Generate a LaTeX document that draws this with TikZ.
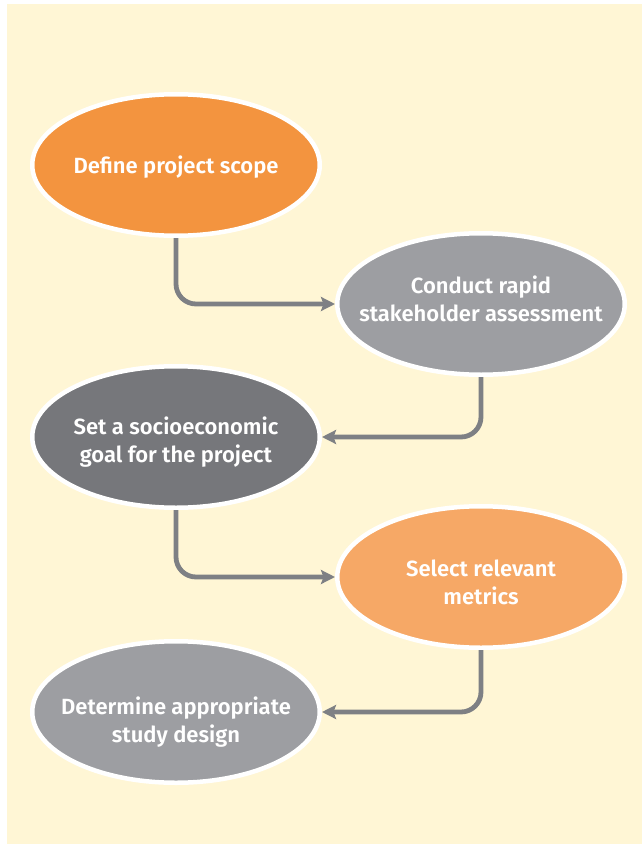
\documentclass[tikz,border=0pt]{standalone}
\usepackage{fontspec}
\setmainfont{Fira Sans}[UprightFont=* SemiBold]
\usetikzlibrary{shapes.geometric,arrows.meta}
\definecolor{bgyellow}{HTML}{FFF6D5}
\definecolor{orangeA}{HTML}{F3943F}
\definecolor{orangeB}{HTML}{F6A866}
\definecolor{greyA}{HTML}{9D9EA2}
\definecolor{greyB}{HTML}{76777B}
\definecolor{connc}{HTML}{7E8084}
\tikzset{
  stepnode/.style={ellipse, draw=white, line width=4.5pt, minimum width=287.5pt, minimum height=141.5pt,
     inner sep=0pt},
  steptext/.style={text=white, align=center, inner sep=0pt, font=\fontsize{22}{28}\selectfont},
  conn/.style={draw=connc, line width=4.8pt, rounded corners=20pt,
     -{Stealth[length=14pt,width=14pt,inset=2.5pt]}}
}
\begin{document}
\begin{tikzpicture}[x=1pt,y=-1pt]
\useasboundingbox (0,0) rectangle (642,845);
\fill[white] (0,0) rectangle (642,845);
\fill[bgyellow] (7,4) rectangle (642,844);
\node[stepnode, fill=orangeA] (e1) at (176,165) {};
\node[stepnode, fill=greyA] (e2) at (481,304) {};
\node[stepnode, fill=greyB] (e3) at (176,437) {};
\node[stepnode, fill=orangeB] (e4) at (481,577) {};
\node[stepnode, fill=greyA] (e5) at (176,712) {};
\node[steptext] (t1) at ([yshift=-2pt]e1.center) {Define project scope};
\node[steptext] (t2) at ([yshift=5pt]e2.center) {Conduct rapid\\stakeholder assessment};
\node[steptext] (t3) at ([yshift=-5pt]e3.center) {Set a socioeconomic\\goal for the project};
\node[steptext] (t4) at ([yshift=-5pt]e4.center) {Select relevant\\metrics};
\node[steptext] (t5) at ([yshift=-10pt]e5.center) {Determine appropriate\\study design};
\draw[conn] (e1.south) |- (e2.west);
\draw[conn] (e2.south) |- (e3.east);
\draw[conn] (e3.south) |- (e4.west);
\draw[conn] (e4.south) |- (e5.east);
\end{tikzpicture}
\end{document}
